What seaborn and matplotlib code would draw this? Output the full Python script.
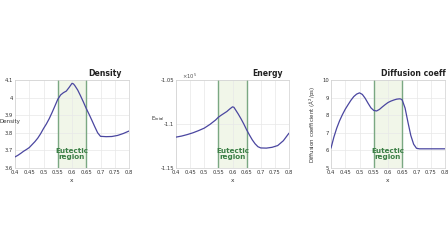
import numpy as np
import pandas as pd
import matplotlib
matplotlib.use("Agg")
import matplotlib.pyplot as plt
import seaborn as sns

# ---- data ----
x_density = [0.40, 0.41, 0.42, 0.43, 0.44, 0.45, 0.46, 0.47, 0.48, 0.49, 0.50, 0.51,
             0.52, 0.53, 0.54, 0.55, 0.56, 0.57, 0.58, 0.59, 0.60, 0.605, 0.61, 0.62,
             0.63, 0.64, 0.65, 0.66, 0.67, 0.68, 0.69, 0.70, 0.72, 0.74, 0.76, 0.78, 0.80]
density = [3.663, 3.672, 3.683, 3.695, 3.705, 3.716, 3.733, 3.75, 3.77, 3.795, 3.824, 3.85,
           3.88, 3.915, 3.952, 3.99, 4.015, 4.028, 4.037, 4.058, 4.081, 4.078, 4.068, 4.043,
           4.01, 3.975, 3.938, 3.905, 3.87, 3.834, 3.80, 3.78, 3.778, 3.779, 3.785, 3.796, 3.81]

x_energy = [0.40, 0.42, 0.44, 0.46, 0.48, 0.50, 0.52, 0.54, 0.55, 0.56, 0.58, 0.59,
            0.60, 0.605, 0.61, 0.62, 0.63, 0.64, 0.65, 0.66, 0.67, 0.68, 0.69, 0.70,
            0.72, 0.74, 0.76, 0.78, 0.80]
energy = [-1.1149, -1.1137, -1.1120, -1.1100, -1.1075, -1.1047, -1.1005, -1.0955, -1.0923,
          -1.0900, -1.0858, -1.0830, -1.0805, -1.0810, -1.0835, -1.0885, -1.0940, -1.1000,
          -1.1066, -1.1125, -1.1180, -1.1225, -1.1258, -1.1272, -1.1274, -1.1265, -1.1245,
          -1.1190, -1.1104]

x_diff = [0.40, 0.41, 0.42, 0.43, 0.44, 0.45, 0.46, 0.47, 0.48, 0.49, 0.50, 0.51, 0.52,
          0.53, 0.54, 0.55, 0.56, 0.57, 0.58, 0.59, 0.60, 0.61, 0.62, 0.63, 0.64, 0.645,
          0.65, 0.66, 0.67, 0.68, 0.69, 0.70, 0.71, 0.75, 0.80]
diffusion = [6.13, 6.75, 7.26, 7.68, 8.03, 8.34, 8.60, 8.85, 9.06, 9.20, 9.27, 9.18, 8.96,
             8.68, 8.42, 8.27, 8.24, 8.33, 8.47, 8.60, 8.72, 8.80, 8.86, 8.91, 8.93, 8.92,
             8.86, 8.40, 7.60, 6.85, 6.35, 6.12, 6.09, 6.09, 6.09]

x_ticks = [0.4, 0.45, 0.5, 0.55, 0.6, 0.65, 0.7, 0.75, 0.8]
x_tick_labels = ["0.4", "0.45", "0.5", "0.55", "0.6", "0.65", "0.7", "0.75", "0.8"]
eutectic = (0.55, 0.65)

titles = ["Density", "Energy", "Diffusion coeff"]

sns.set_theme(style="whitegrid")
plt.rcParams['font.family'] = ['DejaVu Sans']

W, H = 448, 252
fig = plt.figure(figsize=(W / 100, H / 100), dpi=100)

def box(l, r, t, b):
    return [l / W, 1 - b / H, (r - l) / W, (b - t) / H]

ax1 = fig.add_axes(box(15, 129, 80, 168))
ax2 = fig.add_axes(box(176, 289, 80, 168))
ax3 = fig.add_axes(box(331, 445, 80, 168))

line_color = "#4a46a0"
green = "#3c7f46"

panels = [
    (ax1, x_density, density, (3.6, 4.1), [3.6, 3.7, 3.8, 3.9, 4.0, 4.1], ["3.6", "3.7", "3.8", "3.9", "4", "4.1"]),
    (ax2, x_energy, energy, (-1.15, -1.05), [-1.15, -1.1, -1.05], ["-1.15", "-1.1", "-1.05"]),
    (ax3, x_diff, diffusion, (5, 10), [5, 6, 7, 8, 9, 10], ["5", "6", "7", "8", "9", "10"]),
]

for ax, xs, ys, ylim, yt, ytl in panels:
    ax.axvspan(eutectic[0], eutectic[1], color="#eef4e4", alpha=0.8, lw=0, zorder=0)
    for xv in eutectic:
        ax.axvline(xv, color="#7aa882", lw=1.0, zorder=1)
    df = pd.DataFrame({"x": xs, "y": ys})
    sns.lineplot(data=df, x="x", y="y", ax=ax, color=line_color, lw=0.9, zorder=3)
    ax.set_xlim(0.4, 0.8)
    ax.set_ylim(*ylim)
    ax.set_xticks(x_ticks)
    ax.set_xticklabels(x_tick_labels)
    ax.set_yticks(yt)
    ax.set_yticklabels(ytl)
    ax.tick_params(labelsize=3.8, length=0, pad=1.5, colors="#333333")
    ax.grid(True, color="#e8e8e8", lw=0.5)
    for s in ax.spines.values():
        s.set_color("#d0d0d0")
        s.set_linewidth(0.5)
    ax.set_xlabel("x", fontsize=4.2, labelpad=2, color="#333333")
    ax.set_ylabel("")
    ax.text(0.6, 0.16, "Eutectic\nregion", transform=ax.get_xaxis_transform(),
            ha="center", va="center", fontsize=5.2, fontweight="bold", color=green,
            linespacing=1.05, zorder=4)

# y labels
fig.text(0 / W, 1 - 121 / H, "Density", fontsize=4.0, ha="left", va="center", color="#333333")
fig.text(151 / W, 1 - 119 / H, "E$_{total}$", fontsize=3.8, ha="left", va="center", color="#333333")
fig.text(182 / W, 1 - 76 / H, r"$\times10^5$", fontsize=3.8, ha="left", va="center", color="#555555")
ax3.set_ylabel("Diffusion coefficient (Å$^2$/ps)", fontsize=4.0, labelpad=3, color="#333333")

# titles
fig.text(122 / W, 1 - 73 / H, titles[0], fontsize=5.6, fontweight="bold", ha="right", va="center", color="#222222")
fig.text(283 / W, 1 - 73 / H, titles[1], fontsize=5.6, fontweight="bold", ha="right", va="center", color="#222222")
fig.text(446 / W, 1 - 73 / H, titles[2], fontsize=5.6, fontweight="bold", ha="right", va="center", color="#222222")

fig.savefig("out.png", dpi=100, facecolor="white")
